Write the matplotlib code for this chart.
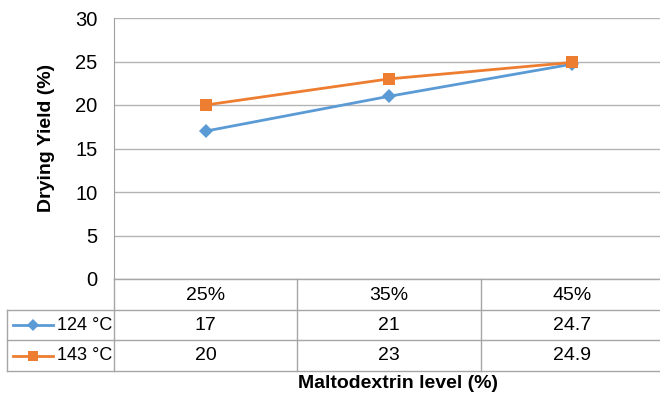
import numpy as np
import matplotlib.pyplot as plt
import matplotlib.transforms as mtrans

plt.rcParams['font.family'] = ['Liberation Sans', 'DejaVu Sans']

levels = ['25%', '35%', '45%']
series_names = ['124 °C', '143 °C']
y124 = [17, 21, 24.7]
y143 = [20, 23, 24.9]
y124_txt = ['17', '21', '24.7']
y143_txt = ['20', '23', '24.9']
colors = ['#5B9BD5', '#ED7D31']
markers = ['D', 's']

W, H = 660, 399
fig = plt.figure(figsize=(W/100, H/100), dpi=100)
# plot area in pixels (left, top, right, bottom)
L, T, R, B = 114, 18, 664, 279
ax = fig.add_axes([L/W, 1-B/H, (R-L)/W, (B-T)/H])

x = np.arange(len(levels))
for ys, c, m in zip([y124, y143], colors, markers):
    ax.plot(x, ys, color=c, lw=2, marker=m, ms=7 if m == 'D' else 8.5,
            markeredgewidth=0, zorder=3)

ax.set_xlim(-0.5, 2.5)
ax.set_ylim(0, 30)
ax.set_yticks(range(0, 31, 5))
ax.yaxis.grid(True, color='#b3b3b3', lw=1)
ax.set_axisbelow(True)
ax.set_xticks([])
for s in ['top', 'right', 'bottom']:
    ax.spines[s].set_visible(False)
ax.spines['left'].set_color('#a0a0a0')
ax.tick_params(axis='y', length=0, pad=12, labelsize=14.5)

def fy(py):
    return 1 - py/H
def fx(px):
    return px/W

fig.text(fx(47), fy(138), 'Drying Yield (%)', rotation=90, ha='center', va='center',
         fontsize=14, fontweight='bold')

# data table below the plot
tr = mtrans.blended_transform_factory(ax.transData, fig.transFigure)
lc = '#a6a6a6'
rows = [279, 310, 340, 371]
left_edge = 7
# horizontal lines
for i, r in enumerate(rows):
    x0 = L if i == 0 else left_edge
    fig.add_artist(plt.Line2D([fx(x0), 1], [fy(r), fy(r)], color=lc, lw=1))
# vertical lines
fig.add_artist(plt.Line2D([fx(left_edge)]*2, [fy(310), fy(371)], color=lc, lw=1))
for b in [-0.5, 0.5, 1.5]:
    fig.add_artist(plt.Line2D([b, b], [fy(279), fy(371)], color=lc, lw=1, transform=tr))

for i, lab in enumerate(levels):
    fig.text(i, fy(295), lab, transform=tr, ha='center', va='center', fontsize=14)
    fig.text(i, fy(325), y124_txt[i], transform=tr, ha='center', va='center', fontsize=14)
    fig.text(i, fy(356), y143_txt[i], transform=tr, ha='center', va='center', fontsize=14)

for name, c, m, py in zip(series_names, colors, markers, [325, 356]):
    fig.add_artist(plt.Line2D([fx(13), fx(53)], [fy(py), fy(py)], color=c, lw=2))
    fig.add_artist(plt.Line2D([fx(33)], [fy(py)], color=c, marker=m,
                              ms=6 if m == 'D' else 7.5, markeredgewidth=0))
    fig.text(fx(57), fy(py), name, ha='left', va='center', fontsize=13)

fig.text(fx(398), fy(384), 'Maltodextrin level (%)', ha='center', va='center',
         fontsize=14, fontweight='bold')

fig.savefig('out.png', dpi=100)
